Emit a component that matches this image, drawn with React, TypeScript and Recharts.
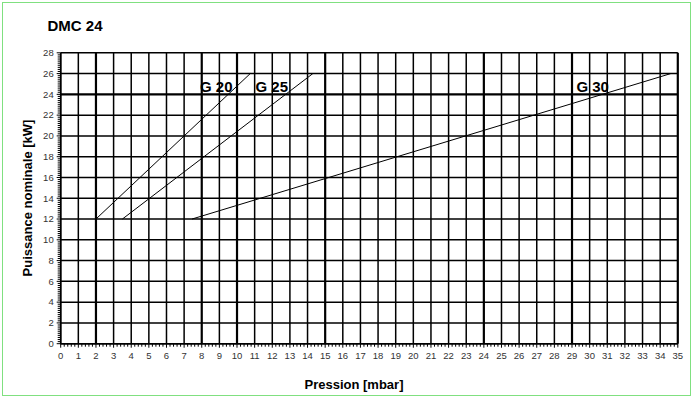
import React from 'react';
import { LineChart, Line, XAxis, YAxis, ReferenceLine, ReferenceDot } from 'recharts';

// ---- data ----
const pressureTicks = [0, 1, 2, 3, 4, 5, 6, 7, 8, 9, 10, 11, 12, 13, 14, 15, 16, 17, 18, 19, 20, 21, 22, 23, 24, 25, 26, 27, 28, 29, 30, 31, 32, 33, 34, 35];
const powerTicks = [0, 2, 4, 6, 8, 10, 12, 14, 16, 18, 20, 22, 24, 26, 28];
const minorPressureTicks = Array.from({ length: 176 }, (_, k) => k / 5);
const minorPowerTicks = Array.from({ length: 141 }, (_, k) => k / 5);

const g20 = [{ x: 2, y: 12 }, { x: 10.75, y: 26 }];
const g25 = [{ x: 3.5, y: 12 }, { x: 14.3, y: 26 }];
const g30 = [{ x: 7.45, y: 12 }, { x: 34.6, y: 26 }];

const seriesLabels = [
  { name: 'G 20', x: 7.9, y: 24.2 },
  { name: 'G 25', x: 11.05, y: 24.2 },
  { name: 'G 30', x: 29.25, y: 24.2 },
];

const title = 'DMC 24';
const xTitle = 'Pression [mbar]';
const yTitle = 'Puissance nominale [kW]';

// ---- styles ----
const FONT = '"Liberation Sans", Arial, Helvetica, sans-serif';
const heavyX = new Set([2, 8, 10, 15, 24, 29, 35]);
const heavyY = new Set([24]);

const isInt = (v: number) => Math.abs(v - Math.round(v)) < 1e-6;

const XTick = (props: any) => {
  const { x, y, payload } = props;
  const v = payload.value;
  const major = isInt(v);
  return (
    <g>
      <line x1={x} x2={x} y1={y} y2={y + (major ? 4 : 3)} stroke="#000" strokeWidth={1} />
      {major && (
        <text x={x} y={y + 15.5} textAnchor="middle" fontSize={9.5} fill="#333" fontFamily={FONT}>
          {Math.round(v)}
        </text>
      )}
    </g>
  );
};

const YTick = (props: any) => {
  const { x, y, payload } = props;
  const v = payload.value;
  const major = isInt(v / 2);
  return (
    <g>
      <line x1={x - (major ? 4 : 3)} x2={x} y1={y} y2={y} stroke="#000" strokeWidth={1} />
      {major && (
        <text x={x - 7} y={y} dy="0.35em" textAnchor="end" fontSize={9.5} fill="#333" fontFamily={FONT}>
          {Math.round(v)}
        </text>
      )}
    </g>
  );
};

const LabelShape = (name: string) => (props: any) => (
  <text x={props.cx} y={props.cy} textAnchor="start" fontSize={15} fontWeight="bold" fill="#000" fontFamily={FONT}>
    {name}
  </text>
);

export default function App() {
  return (
    <div style={{ position: 'absolute', left: 0, top: 0, width: 693, height: 398, background: '#fff' }}>
      <div
        style={{
          position: 'absolute',
          left: 2,
          top: 2,
          width: 689,
          height: 394,
          boxSizing: 'border-box',
          border: '1.5px solid #80e080',
        }}
      />
      <div style={{ position: 'absolute', left: 0, top: 0 }}>
        <LineChart width={693} height={398} margin={{ top: 52.8, right: 15.2, bottom: 24.3, left: 15.7 }}>
          <XAxis
            type="number"
            dataKey="x"
            domain={[0, 35]}
            ticks={minorPressureTicks}
            interval={0}
            tickLine={false}
            tickSize={0}
            tickMargin={0}
            axisLine={{ stroke: '#000', strokeWidth: 1.5 }}
            tick={(p: any) => <XTick {...p} />}
            height={30}
            allowDataOverflow
          />
          <YAxis
            type="number"
            dataKey="y"
            domain={[0, 28]}
            ticks={minorPowerTicks}
            interval={0}
            tickLine={false}
            tickSize={0}
            tickMargin={0}
            axisLine={{ stroke: '#000', strokeWidth: 1.5 }}
            tick={(p: any) => <YTick {...p} />}
            width={45}
            allowDataOverflow
          />
          {pressureTicks.map((v) => (
            <ReferenceLine key={'vx' + v} x={v} stroke="#000" strokeWidth={heavyX.has(v) ? 2.2 : 1.5} />
          ))}
          {powerTicks.map((v) => (
            <ReferenceLine key={'hy' + v} y={v} stroke="#000" strokeWidth={heavyY.has(v) ? 2.2 : 1.5} />
          ))}
          <Line data={g20} dataKey="y" stroke="#000" strokeWidth={1} dot={false} isAnimationActive={false} />
          <Line data={g25} dataKey="y" stroke="#000" strokeWidth={1} dot={false} isAnimationActive={false} />
          <Line data={g30} dataKey="y" stroke="#000" strokeWidth={1} dot={false} isAnimationActive={false} />
          {seriesLabels.map((l) => (
            <ReferenceDot key={l.name} x={l.x} y={l.y} r={0} ifOverflow="visible" shape={LabelShape(l.name)} />
          ))}
        </LineChart>
      </div>
      <svg width={693} height={398} style={{ position: 'absolute', left: 0, top: 0, pointerEvents: 'none' }}>
        <text x={47.5} y={30.5} fontSize={15} fontWeight="bold" fill="#000" fontFamily={FONT}>
          {title}
        </text>
        <text x={354} y={388.5} textAnchor="middle" fontSize={13} fontWeight="bold" fill="#000" fontFamily={FONT}>
          {xTitle}
        </text>
        <text
          x={0}
          y={0}
          transform="translate(31.5,198) rotate(-90)"
          textAnchor="middle"
          fontSize={13}
          fontWeight="bold"
          fill="#000"
          fontFamily={FONT}
        >
          {yTitle}
        </text>
      </svg>
    </div>
  );
}
